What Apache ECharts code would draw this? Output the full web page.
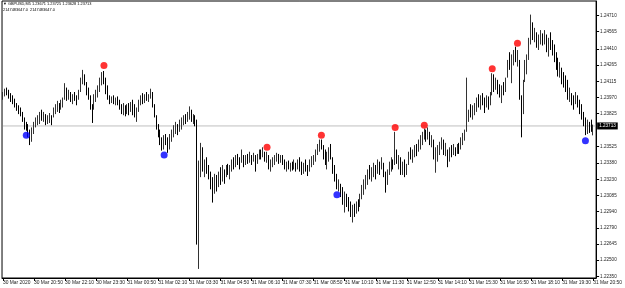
<!DOCTYPE html>
<html><head><meta charset="utf-8">
<script src="https://cdn.jsdelivr.net/npm/echarts@6/dist/echarts.min.js"></script>
<style>html,body{margin:0;padding:0;background:#fff}#c{width:625px;height:288px}</style>
</head><body><div id="c"></div>
<script>
const symbolName = 'GBPUSD,M5';
const lastOHLC = [1.23671, 1.23725, 1.23628, 1.23713];
const infoLine = '2147483647.0  2147483647.0';
const currentPrice = 1.23713;
const xTickLabels = ['30 Mar 2020','30 Mar 20:50','30 Mar 22:10','30 Mar 23:30','31 Mar 00:50','31 Mar 02:10','31 Mar 03:30','31 Mar 04:50','31 Mar 06:10','31 Mar 07:30','31 Mar 08:50','31 Mar 10:10','31 Mar 11:30','31 Mar 12:50','31 Mar 14:10','31 Mar 15:30','31 Mar 16:50','31 Mar 18:10','31 Mar 19:30','31 Mar 20:50'];
const yTickValues = [1.24710,1.24565,1.24410,1.24265,1.24115,1.23970,1.23825,1.23525,1.23380,1.23230,1.23085,1.22940,1.22790,1.22645,1.22500,1.22350];

const opens = [
1.2397,1.2400,1.2403,1.2401,1.2398,1.2395,1.2392,1.2390,1.2387,1.2384,
1.2382,1.2377,1.2370,1.2368,1.2363,1.2358,1.2366,1.2372,1.2376,1.2379,
1.2382,1.2378,1.2380,1.2375,1.2378,1.2381,1.2380,1.2386,1.2389,1.2392,
1.2386,1.2393,1.2395,1.2405,1.2397,1.2401,1.2395,1.2398,1.2396,1.2396,
1.2402,1.2413,1.2416,1.2410,1.2401,1.2397,1.2388,1.2386,1.2398,1.2402,
1.2406,1.2413,1.2418,1.2412,1.2403,1.2397,1.2394,1.2396,1.2393,1.2395,
1.2391,1.2388,1.2384,1.2389,1.2382,1.2388,1.2384,1.2391,1.2383,1.2381,
1.2386,1.2393,1.2397,1.2394,1.2398,1.2396,1.2399,1.2402,1.2390,1.2381,
1.2371,1.2364,1.2357,1.2352,1.2358,1.2356,1.2350,1.2361,1.2366,1.2369,
1.2373,1.2366,1.2375,1.2377,1.2379,1.2376,1.2382,1.2386,1.2378,1.2380,
1.2374,1.2268,1.2330,1.2350,1.2334,1.2338,1.2330,1.2325,1.2316,1.2310,
1.2324,1.2316,1.2327,1.2321,1.2331,1.2326,1.2334,1.2330,1.2333,1.2339,
1.2336,1.2343,1.2339,1.2338,1.2345,1.2337,1.2343,1.2340,1.2345,1.2339,
1.2345,1.2337,1.2344,1.2348,1.2343,1.2348,1.2341,1.2345,1.2334,1.2338,
1.2341,1.2343,1.2345,1.2339,1.2343,1.2337,1.2334,1.2337,1.2333,1.2336,
1.2333,1.2338,1.2332,1.2340,1.2333,1.2330,1.2336,1.2332,1.2330,1.2339,
1.2342,1.2344,1.2348,1.2353,1.2357,1.2352,1.2345,1.2339,1.2345,1.2350,
1.2343,1.2331,1.2324,1.2316,1.2319,1.2309,1.2303,1.2306,1.2300,1.2297,
1.2291,1.2295,1.2292,1.2300,1.2299,1.2308,1.2315,1.2320,1.2325,1.2330,
1.2326,1.2332,1.2336,1.2328,1.2338,1.2332,1.2338,1.2328,1.2318,1.2330,
1.2336,1.2340,1.2337,1.2350,1.2340,1.2343,1.2330,1.2336,1.2328,1.2336,
1.2346,1.2343,1.2348,1.2352,1.2348,1.2356,1.2361,1.2364,1.2367,1.2360,
1.2366,1.2357,1.2359,1.2345,1.2348,1.2351,1.2355,1.2358,1.2347,1.2350,
1.2340,1.2350,1.2346,1.2352,1.2347,1.2353,1.2350,1.2359,1.2363,1.2368,
1.2376,1.2384,1.2381,1.2388,1.2390,1.2395,1.2391,1.2397,1.2393,1.2389,
1.2396,1.2390,1.2400,1.2416,1.2405,1.2412,1.2403,1.2400,1.2405,1.2403,
1.2415,1.2428,1.2425,1.2433,1.2437,1.2432,1.2431,1.2398,1.2385,1.2412,
1.2428,1.2432,1.2447,1.2465,1.2452,1.2455,1.2446,1.2450,1.2455,1.2447,
1.2453,1.2441,1.2447,1.2442,1.2438,1.2432,1.2425,1.2420,1.2423,1.2412,
1.2409,1.2405,1.2398,1.2401,1.2393,1.2392,1.2398,1.2390,1.2385,1.2380,
1.2374,1.2366,1.2374,1.2368,1.23671];

const closes = [
1.2400,1.2403,1.2401,1.2398,1.2395,1.2392,1.2390,1.2387,1.2384,1.2382,
1.2377,1.2370,1.2368,1.2363,1.2358,1.2366,1.2372,1.2376,1.2379,1.2382,
1.2378,1.2380,1.2375,1.2378,1.2381,1.2374,1.2386,1.2389,1.2392,1.2386,
1.2393,1.2395,1.2405,1.2397,1.2401,1.2395,1.2398,1.2396,1.2392,1.2402,
1.2413,1.2416,1.2410,1.2401,1.2397,1.2388,1.2386,1.2398,1.2402,1.2406,
1.2413,1.2418,1.2412,1.2403,1.2397,1.2394,1.2396,1.2393,1.2395,1.2391,
1.2388,1.2384,1.2389,1.2382,1.2388,1.2384,1.2391,1.2383,1.2381,1.2386,
1.2393,1.2397,1.2394,1.2398,1.2396,1.2399,1.2402,1.2390,1.2381,1.2371,
1.2364,1.2357,1.2352,1.2358,1.2356,1.2350,1.2361,1.2366,1.2369,1.2373,
1.2366,1.2375,1.2377,1.2379,1.2376,1.2382,1.2386,1.2378,1.2380,1.2374,
1.2268,1.2330,1.2350,1.2334,1.2338,1.2330,1.2325,1.2316,1.2310,1.2324,
1.2316,1.2327,1.2321,1.2333,1.2323,1.2334,1.2330,1.2333,1.2339,1.2336,
1.2343,1.2339,1.2334,1.2348,1.2337,1.2343,1.2340,1.2346,1.2338,1.2345,
1.2334,1.2344,1.2348,1.2343,1.2350,1.2341,1.2346,1.2334,1.2338,1.2341,
1.2343,1.2345,1.2339,1.2343,1.2337,1.2334,1.2337,1.2333,1.2336,1.2333,
1.2339,1.2332,1.2340,1.2333,1.2330,1.2336,1.2332,1.2328,1.2339,1.2342,
1.2344,1.2348,1.2353,1.2357,1.2352,1.2345,1.2339,1.2345,1.2350,1.2343,
1.2331,1.2324,1.2316,1.2319,1.2309,1.2303,1.2306,1.2300,1.2297,1.2291,
1.2295,1.2292,1.2300,1.2297,1.2308,1.2315,1.2320,1.2325,1.2330,1.2326,
1.2332,1.2336,1.2327,1.2338,1.2330,1.2340,1.2328,1.2315,1.2330,1.2336,
1.2340,1.2335,1.2360,1.2340,1.2343,1.2330,1.2336,1.2328,1.2335,1.2346,
1.2343,1.2348,1.2352,1.2347,1.2356,1.2361,1.2364,1.2367,1.2360,1.2366,
1.2357,1.2360,1.2345,1.2348,1.2351,1.2355,1.2358,1.2347,1.2353,1.2340,
1.2350,1.2346,1.2353,1.2347,1.2353,1.2350,1.2359,1.2363,1.2366,1.2372,
1.2384,1.2381,1.2388,1.2390,1.2395,1.2391,1.2397,1.2393,1.2386,1.2396,
1.2390,1.2400,1.2416,1.2405,1.2412,1.2403,1.2400,1.2405,1.2401,1.2413,
1.2428,1.2425,1.2433,1.2437,1.2432,1.2436,1.2400,1.2385,1.2410,1.2428,
1.2432,1.2447,1.2465,1.2452,1.2457,1.2446,1.2450,1.2455,1.2447,1.2455,
1.2441,1.2447,1.2442,1.2438,1.2432,1.2425,1.2420,1.2425,1.2412,1.2409,
1.2405,1.2398,1.2402,1.2393,1.2390,1.2398,1.2390,1.2385,1.2380,1.2374,
1.2366,1.2374,1.2368,1.2367,1.23713];

const lows = [
1.2395,1.2398,1.2399,1.2396,1.2393,1.2391,1.2388,1.2385,1.2382,1.2380,
1.2375,1.2368,1.2367,1.2361,1.2354,1.2357,1.2364,1.2370,1.2372,1.2373,
1.2376,1.2375,1.2372,1.2373,1.2374,1.2372,1.2379,1.2382,1.2384,1.2383,
1.2386,1.2388,1.2395,1.2394,1.2395,1.2393,1.2391,1.2394,1.2390,1.2395,
1.2402,1.2409,1.2408,1.2399,1.2395,1.2386,1.2374,1.2386,1.2393,1.2397,
1.2402,1.2408,1.2409,1.2400,1.2395,1.2391,1.2392,1.2391,1.2390,1.2390,
1.2386,1.2382,1.2381,1.2380,1.2382,1.2381,1.2384,1.2381,1.2379,1.2375,
1.2384,1.2390,1.2391,1.2392,1.2394,1.2393,1.2396,1.2388,1.2379,1.2368,
1.2361,1.2354,1.2349,1.2350,1.2354,1.2347,1.2350,1.2357,1.2361,1.2364,
1.2363,1.2366,1.2368,1.2372,1.2373,1.2375,1.2377,1.2375,1.2373,1.2371,
1.2264,1.2242,1.2325,1.2330,1.2325,1.2328,1.2323,1.2314,1.2302,1.2310,
1.2312,1.2316,1.2318,1.2321,1.2319,1.2325,1.2327,1.2323,1.2330,1.2332,
1.2334,1.2336,1.2332,1.2338,1.2334,1.2336,1.2337,1.2338,1.2336,1.2339,
1.2330,1.2337,1.2341,1.2341,1.2343,1.2339,1.2338,1.2332,1.2330,1.2334,
1.2336,1.2339,1.2337,1.2338,1.2336,1.2332,1.2330,1.2332,1.2330,1.2331,
1.2332,1.2330,1.2332,1.2330,1.2327,1.2328,1.2330,1.2326,1.2330,1.2334,
1.2336,1.2339,1.2345,1.2348,1.2350,1.2341,1.2336,1.2332,1.2339,1.2341,
1.2328,1.2321,1.2314,1.2312,1.2307,1.2300,1.2293,1.2298,1.2294,1.2289,
1.2284,1.2289,1.2292,1.2294,1.2298,1.2305,1.2309,1.2314,1.2318,1.2323,
1.2321,1.2325,1.2323,1.2328,1.2327,1.2332,1.2325,1.2311,1.2318,1.2327,
1.2330,1.2332,1.2336,1.2337,1.2332,1.2327,1.2327,1.2325,1.2327,1.2336,
1.2341,1.2338,1.2343,1.2344,1.2348,1.2350,1.2354,1.2359,1.2357,1.2359,
1.2354,1.2352,1.2341,1.2329,1.2339,1.2345,1.2350,1.2345,1.2344,1.2334,
1.2339,1.2343,1.2345,1.2344,1.2346,1.2346,1.2350,1.2354,1.2358,1.2366,
1.2375,1.2379,1.2377,1.2381,1.2384,1.2388,1.2386,1.2390,1.2383,1.2388,
1.2386,1.2390,1.2399,1.2402,1.2404,1.2400,1.2397,1.2392,1.2399,1.2402,
1.2415,1.2422,1.2410,1.2426,1.2429,1.2425,1.2395,1.2361,1.2382,1.2411,
1.2418,1.2431,1.2445,1.2449,1.2447,1.2442,1.2440,1.2445,1.2444,1.2445,
1.2438,1.2434,1.2440,1.2435,1.2429,1.2422,1.2416,1.2415,1.2409,1.2406,
1.2402,1.2395,1.2393,1.2390,1.2386,1.2391,1.2388,1.2382,1.2377,1.2371,
1.2363,1.2364,1.2365,1.2366,1.23628];

const highs = [
1.2402,1.2405,1.2406,1.2404,1.2401,1.2399,1.2396,1.2392,1.2390,1.2388,
1.2384,1.2379,1.2375,1.2373,1.2368,1.2370,1.2375,1.2379,1.2381,1.2384,
1.2386,1.2384,1.2382,1.2381,1.2383,1.2381,1.2388,1.2391,1.2394,1.2392,
1.2395,1.2397,1.2410,1.2406,1.2404,1.2402,1.2400,1.2402,1.2399,1.2404,
1.2415,1.2422,1.2418,1.2411,1.2406,1.2399,1.2391,1.2400,1.2404,1.2408,
1.2415,1.2420,1.2421,1.2415,1.2408,1.2399,1.2398,1.2399,1.2397,1.2398,
1.2395,1.2391,1.2392,1.2390,1.2391,1.2392,1.2393,1.2395,1.2391,1.2388,
1.2395,1.2399,1.2401,1.2400,1.2402,1.2400,1.2405,1.2402,1.2391,1.2381,
1.2373,1.2368,1.2361,1.2363,1.2364,1.2361,1.2364,1.2368,1.2372,1.2375,
1.2373,1.2377,1.2379,1.2381,1.2382,1.2384,1.2389,1.2386,1.2382,1.2381,
1.2377,1.2340,1.2356,1.2352,1.2341,1.2343,1.2336,1.2330,1.2325,1.2328,
1.2327,1.2330,1.2334,1.2336,1.2332,1.2336,1.2337,1.2336,1.2341,1.2343,
1.2345,1.2346,1.2343,1.2350,1.2345,1.2345,1.2346,1.2348,1.2345,1.2347,
1.2345,1.2346,1.2350,1.2350,1.2352,1.2348,1.2348,1.2345,1.2341,1.2343,
1.2345,1.2347,1.2346,1.2345,1.2345,1.2341,1.2339,1.2340,1.2338,1.2339,
1.2341,1.2338,1.2341,1.2343,1.2339,1.2338,1.2341,1.2336,1.2341,1.2344,
1.2345,1.2350,1.2355,1.2359,1.2359,1.2354,1.2350,1.2348,1.2352,1.2355,
1.2343,1.2336,1.2328,1.2323,1.2319,1.2316,1.2312,1.2310,1.2307,1.2303,
1.2300,1.2301,1.2303,1.2305,1.2310,1.2318,1.2323,1.2327,1.2332,1.2336,
1.2334,1.2338,1.2336,1.2341,1.2339,1.2343,1.2338,1.2330,1.2332,1.2339,
1.2343,1.2341,1.2366,1.2350,1.2345,1.2343,1.2339,1.2341,1.2337,1.2348,
1.2352,1.2350,1.2354,1.2355,1.2359,1.2363,1.2366,1.2369,1.2368,1.2370,
1.2366,1.2363,1.2359,1.2352,1.2354,1.2357,1.2361,1.2359,1.2356,1.2350,
1.2352,1.2354,1.2355,1.2352,1.2355,1.2356,1.2361,1.2365,1.2368,1.2415,
1.2386,1.2391,1.2390,1.2392,1.2397,1.2400,1.2399,1.2401,1.2397,1.2399,
1.2398,1.2402,1.2419,1.2418,1.2415,1.2413,1.2409,1.2408,1.2411,1.2415,
1.2431,1.2438,1.2436,1.2440,1.2443,1.2440,1.2431,1.2399,1.2413,1.2431,
1.2436,1.2451,1.2472,1.2465,1.2460,1.2456,1.2454,1.2458,1.2455,1.2458,
1.2454,1.2451,1.2456,1.2449,1.2445,1.2438,1.2433,1.2429,1.2424,1.2420,
1.2417,1.2413,1.2406,1.2401,1.2399,1.2402,1.2399,1.2395,1.2391,1.2384,
1.2379,1.2377,1.2375,1.2377,1.23725];

const upArrowIdx = [52,136,164,202,217,252,265];
const upArrowVal = [1.2426,1.2352,1.2363,1.2370,1.2372,1.2423,1.2446];
const downArrowIdx = [12,83,172,300];
const downArrowVal = [1.2363,1.2345,1.2309,1.2358];

// M5 bar times starting 30 Mar 2020 19:30 (one extra empty slot at the right edge)
const startMs = Date.UTC(2020, 2, 30, 19, 30);
const monthNames = ['Jan','Feb','Mar','Apr','May','Jun','Jul','Aug','Sep','Oct','Nov','Dec'];
const categories = [];
for (let i = 0; i <= opens.length; i++) {
  const d = new Date(startMs + i * 300000);
  const p = n => (n < 10 ? '0' : '') + n;
  categories.push(d.getUTCDate() + ' ' + monthNames[d.getUTCMonth()] + ' ' + p(d.getUTCHours()) + ':' + p(d.getUTCMinutes()));
}
const candles = opens.map((o, i) => [o, closes[i], lows[i], highs[i]]);
const tickStep = 16;
const showTick = idx => idx % tickStep === 0 && idx / tickStep < xTickLabels.length;
const FONT = 'Liberation Sans';

const chart = echarts.init(document.getElementById('c'), null, {renderer: 'canvas'});
chart.setOption({
  animation: false,
  backgroundColor: '#ffffff',
  grid: {left: 1, right: 24, top: 1, bottom: 10, show: true, borderColor: '#000', borderWidth: 1},
  graphic: [
    {type: 'text', left: 3, top: 2, style: {text: '\u25BC ' + symbolName + ' ' + lastOHLC.map(v => v.toFixed(5)).join(' '), fontSize: 3.9, fontFamily: FONT, fill: '#000'}},
    {type: 'text', left: 3, top: 8, style: {text: infoLine, fontSize: 3.9, fontFamily: FONT, fill: '#000'}}
  ],
  xAxis: {
    type: 'category', data: categories, boundaryGap: true,
    axisLine: {lineStyle: {color: '#000', width: 1}},
    axisTick: {show: true, alignWithLabel: true, interval: showTick, length: 3, lineStyle: {color: '#000'}},
    axisLabel: {interval: showTick, formatter: (v, idx) => xTickLabels[idx / tickStep], align: 'left', fontSize: 4.9, fontFamily: FONT, color: '#222', margin: 2},
    splitLine: {show: false}
  },
  yAxis: {
    type: 'value', position: 'right', min: 1.22338, max: 1.24843,
    axisLine: {show: true, lineStyle: {color: '#000', width: 1}},
    axisTick: {show: true, customValues: yTickValues, length: 3, lineStyle: {color: '#000'}},
    axisLabel: {customValues: yTickValues, formatter: v => v.toFixed(5), fontSize: 4.6, fontFamily: FONT, color: '#222', margin: 4},
    splitLine: {show: false}
  },
  series: [
    {
      type: 'line', data: [[0, currentPrice], [categories.length - 1, currentPrice]],
      symbol: 'none', silent: true, z: 1,
      lineStyle: {color: '#c0c0c0', width: 1, type: 'solid'},
      endLabel: {show: true, formatter: currentPrice.toFixed(5), backgroundColor: '#000', color: '#fff', fontSize: 4.6, fontFamily: FONT, padding: [1, 2], distance: 2}
    },
    {
      type: 'candlestick', data: candles, barWidth: 1.2, z: 2,
      itemStyle: {color: '#777', color0: '#000', borderColor: '#333', borderColor0: '#000', borderWidth: 1}
    },
    {type: 'scatter', data: upArrowIdx.map((x, i) => [x, upArrowVal[i]]), symbol: 'circle', symbolSize: 7, itemStyle: {color: '#ff0000'}, z: 5},
    {type: 'scatter', data: downArrowIdx.map((x, i) => [x, downArrowVal[i]]), symbol: 'circle', symbolSize: 7, itemStyle: {color: '#0000ff'}, z: 5}
  ]
});
</script></body></html>
